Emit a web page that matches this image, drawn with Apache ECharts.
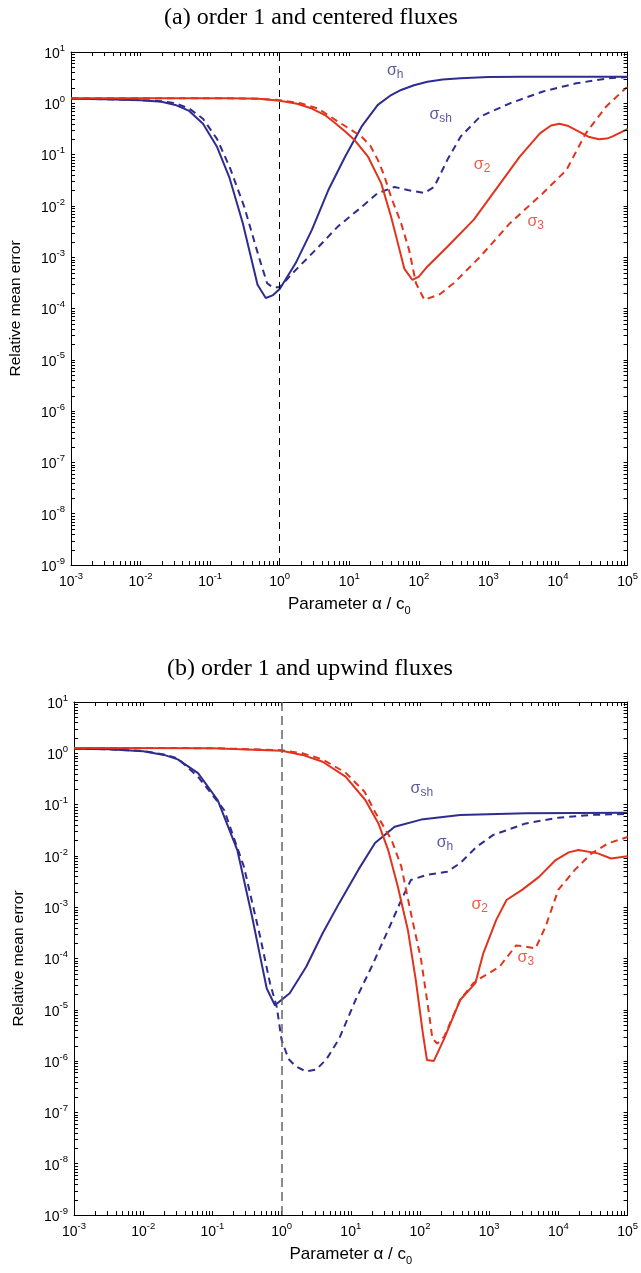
<!DOCTYPE html>
<html><head><meta charset="utf-8">
<script src="https://cdn.jsdelivr.net/npm/echarts@6/dist/echarts.min.js"></script>
<style>html,body{margin:0;padding:0;background:#fff}#c{width:641px;height:1273px}</style>
</head><body><div id="c"></div>
<script>
// ---------- data ----------
const titles = ['(a) order 1 and centered fluxes', '(b) order 1 and upwind fluxes'];
const xName = 'Parameter α / c{sub|0}';
const yName = 'Relative mean error';
const xRange = [1e-3, 1e5];
const yRange = [1e-9, 10];
const refLineX = 1;

// (a) centered fluxes
const a_sigma_h = [[1e-3,1.23],[3.16e-3,1.2],[0.01,1.15],[0.02,1.07],[0.0316,0.93],[0.05,0.71],[0.079,0.4],[0.126,0.14],[0.19,0.035],[0.295,4.6e-3],[0.48,2.9e-4],[0.63,1.6e-4],[0.79,1.8e-4],[1,2.4e-4],[1.69,7.6e-4],[2.9,3.4e-3],[5,0.0204],[8.7,0.091],[15,0.35],[25.7,0.93],[40,1.45],[55.6,1.82],[85,2.25],[133,2.63],[220,2.9],[398,3.09],[1000,3.24],[3162,3.31],[1e5,3.31]];
const a_sigma_sh = [[1e-3,1.23],[3.16e-3,1.2],[0.01,1.16],[0.02,1.1],[0.0316,1.0],[0.05,0.79],[0.079,0.5],[0.126,0.2],[0.19,0.058],[0.31,9.5e-3],[0.5,1.02e-3],[0.66,3.1e-4],[0.79,2.6e-4],[1,2.6e-4],[1.69,5.6e-4],[3.63,1.6e-3],[6.9,4e-3],[15,9.5e-3],[25.7,0.0178],[44.7,0.0234],[69,0.0204],[120,0.0178],[166,0.0234],[257,0.079],[398,0.224],[759,0.55],[2042,1.0],[6100,1.7],[18200,2.45],[53700,3.09],[1e5,3.24]];
const a_sigma_2 = [[1e-3,1.26],[0.01,1.26],[0.1,1.25],[0.19,1.25],[0.5,1.22],[1,1.12],[1.78,0.98],[2.9,0.79],[4.47,0.59],[6.3,0.41],[8.9,0.275],[12,0.19],[18.6,0.091],[28.8,0.0275],[39.8,6.2e-3],[50,1.86e-3],[61.7,6e-4],[81,3.6e-4],[100,4.2e-4],[133,6.6e-4],[257,1.6e-3],[617,5.4e-3],[1480,0.0275],[2820,0.091],[5500,0.26],[7940,0.37],[10500,0.4],[14100,0.36],[18200,0.3],[28200,0.22],[38900,0.2],[50000,0.205],[60000,0.224],[93000,0.3],[1e5,0.316]];
const a_sigma_3 = [[1e-3,1.26],[0.1,1.26],[0.5,1.23],[1,1.15],[2,1.0],[3.55,0.79],[6.9,0.44],[10,0.32],[15,0.224],[20,0.15],[25.7,0.079],[31.6,0.04],[39.8,0.015],[55.6,4.6e-3],[72.4,1.38e-3],[91,3.1e-4],[120,1.48e-4],[200,1.9e-4],[316,3.1e-4],[759,1.02e-3],[2040,4.6e-3],[6100,0.0178],[13200,0.05],[25100,0.26],[49000,0.86],[93000,1.95],[1e5,2.04]];

// (b) upwind fluxes
const b_blue_solid = [[1e-3,1.23],[3.16e-3,1.2],[0.01,1.1],[0.02,0.93],[0.0316,0.76],[0.062,0.41],[0.119,0.123],[0.229,0.013],[0.375,6.5e-4],[0.49,1.1e-4],[0.61,2.6e-5],[0.8,1.23e-5],[1.31,2.1e-5],[2.27,6.9e-5],[3.92,3.1e-4],[6.8,1.2e-3],[12.9,5.4e-3],[22.4,0.0178],[43,0.037],[104,0.051],[380,0.063],[3390,0.068],[1e5,0.069]];
const b_blue_dashed = [[1e-3,1.23],[3.16e-3,1.2],[0.01,1.11],[0.02,0.95],[0.0316,0.79],[0.062,0.35],[0.148,0.0785],[0.285,6.2e-3],[0.49,2.66e-4],[0.68,3.3e-5],[0.85,1.15e-5],[1,2.6e-6],[1.26,1.1e-6],[1.58,8e-7],[2.24,6.3e-7],[3.16,6.8e-7],[4.47,1.1e-6],[6.8,2.75e-6],[11.7,1.55e-5],[20,6.9e-5],[34.7,3.6e-4],[53.7,1.38e-3],[74,3.4e-3],[129,4.3e-3],[245,4.9e-3],[380,7.2e-3],[661,0.0151],[1150,0.0257],[3390,0.043],[1e4,0.0556],[30200,0.063],[1e5,0.066]];
const b_sigma_2 = [[1e-3,1.27],[0.1,1.26],[1,1.12],[2,0.93],[3.92,0.685],[8.4,0.35],[16.2,0.123],[25.1,0.043],[34.7,0.013],[47.9,2.5e-3],[66.8,3.6e-4],[87,3.8e-5],[110,3.5e-6],[126,1.05e-6],[158,1e-6],[224,2.75e-6],[380,1.55e-5],[631,3.3e-5],[822,1.26e-4],[1260,5.6e-4],[1780,1.38e-3],[3020,2.2e-3],[5250,3.9e-3],[9120,8.3e-3],[14100,0.0117],[19500,0.013],[37200,0.0112],[57500,8.9e-3],[1e5,9.8e-3]];
const b_sigma_3 = [[1e-3,1.27],[0.1,1.26],[1,1.15],[2,1.0],[3.92,0.76],[8.4,0.42],[15.8,0.178],[22.4,0.072],[38.9,0.0204],[53.7,6.2e-3],[74,7.6e-4],[104,9.3e-5],[135,8.5e-6],[151,2.75e-6],[178,2.2e-6],[224,3e-6],[380,1.55e-5],[589,3.3e-5],[741,4.1e-5],[1410,6.9e-5],[2450,1.8e-4],[3390,1.7e-4],[4680,1.58e-4],[6530,4.2e-4],[1e4,2.2e-3],[17400,5.4e-3],[30200,0.0112],[52500,0.0176],[1e5,0.0234]];

// curve labels: [x, y, main, subscript, colour key]
const a_labels = [[34.7,4.27,'σ','h','blue'],[142,0.59,'σ','sh','blue'],[617,0.063,'σ','2','red'],[3630,4.9e-3,'σ','3','red']];
const b_labels = [[73,0.201,'σ','sh','blue'],[174,0.0178,'σ','h','blue'],[555,1.1e-3,'σ','2','red'],[2570,1.02e-4,'σ','3','red']];

// minor tick values (log axes)
const xMinor = []; for (let d=-3; d<5; d++) for (let k=2; k<10; k++) xMinor.push(k*Math.pow(10,d));
const yMinor = []; for (let d=-9; d<1; d++) for (let k=2; k<10; k++) yMinor.push(k*Math.pow(10,d));

// ---------- styles ----------
const BLUE = '#2E2D8F', RED = '#E2341D';
const COL = {blue: BLUE, red: RED};
const grids = [
  {left: 70, top: 52, width: 562, height: 513},
  {left: 74, top: 702, width: 563, height: 513}
];
const TICK = 4;
const FONT = 'Liberation Sans, Arial, sans-serif';

function expLabel(v){
  const e = Math.round(Math.log10(v));
  return '{b|10}{sup|' + e + '}';
}
const tickRich = {
  b: {fontSize: 14, fontFamily: FONT, color: '#000', lineHeight: 18, verticalAlign: 'bottom'},
  sup: {fontSize: 9.5, fontFamily: FONT, color: '#000', lineHeight: 9, verticalAlign: 'top'}
};

const option = {
  animation: false,
  backgroundColor: '#fff',
  grid: grids.map(g => Object.assign({containLabel: false}, g)),
  xAxis: [], yAxis: [], series: [],
  graphic: [
    {type:'text', x: 311, y: 18, style:{text: titles[0], font: '24px "Liberation Serif", "Times New Roman", serif', fill:'#000', textAlign:'center', textVerticalAlign:'middle'}},
    {type:'text', x: 310, y: 669, style:{text: titles[1], font: '24px "Liberation Serif", "Times New Roman", serif', fill:'#000', textAlign:'center', textVerticalAlign:'middle'}}
  ]
};

function addPanel(gi, curves, labels, refColor, refDash, refWidth){
  const xb = option.xAxis.length;
  const yb = option.yAxis.length;
  const common = {type:'log', logBase:10, gridIndex: gi, splitLine:{show:false}, minorTick:{show:false},
    axisLine:{show:true, onZero:false, lineStyle:{color:'#000', width:1}},
    axisTick:{show:true, inside:true, length:TICK, lineStyle:{color:'#000', width:1}}};
  option.xAxis.push(Object.assign({}, common, {min:xRange[0], max:xRange[1], interval:1, splitNumber:8, position:'bottom',
    axisLabel:{show:true, margin:6, formatter: expLabel, color:'#000', rich: tickRich, showMinLabel:true, showMaxLabel:true},
    name: xName, nameLocation:'middle', nameGap: 28, nameTextStyle:{fontSize:17, fontFamily:FONT, color:'#000', rich:{sub:{fontSize:11, fontFamily:FONT, color:'#000', verticalAlign:'bottom', padding:[12,0,0,0]}}}}));
  option.xAxis.push(Object.assign({}, common, {min:xRange[0], max:xRange[1], interval:1, splitNumber:8, position:'top', axisLabel:{show:false}}));
  option.yAxis.push(Object.assign({}, common, {min:yRange[0], max:yRange[1], interval:1, splitNumber:10, position:'left',
    axisLabel:{show:true, margin:6, formatter: expLabel, color:'#000', rich: tickRich, showMinLabel:true, showMaxLabel:true},
    name: yName, nameLocation:'middle', nameGap: 47, nameTextStyle:{fontSize:15.5, fontFamily:FONT, color:'#000'}}));
  option.yAxis.push(Object.assign({}, common, {min:yRange[0], max:yRange[1], interval:1, splitNumber:10, position:'right', axisLabel:{show:false}}));

  curves.forEach((c, i) => {
    const s = {type:'line', xAxisIndex: xb, yAxisIndex: yb, data: c.data, showSymbol:false, symbol:'none', smooth:false,
      lineStyle:{color: c.color, width: 2, type: c.dashed ? [7,5] : 'solid'}, z: 3};
    if (i === 0) {
      s.markLine = {silent:true, symbol:'none', label:{show:false}, animation:false,
        lineStyle:{color: refColor, width: refWidth, type: refDash}, data:[{xAxis: refLineX}]};
    }
    option.series.push(s);
  });
  // curve labels
  labels.forEach(l => {
    option.series.push({type:'scatter', xAxisIndex: xb, yAxisIndex: yb, symbolSize: 0, silent:true, z: 4,
      data:[[l[0], l[1]]],
      label:{show:true, position:'right', distance:0, formatter: l[2] + '{sub|' + l[3] + '}',
        fontSize: 16, fontFamily: FONT, color: COL[l[4]], lineHeight: 20,
        rich:{sub:{fontSize: 12, fontFamily: FONT, color: COL[l[4]], verticalAlign:'bottom', lineHeight: 12, padding:[12,0,0,0]}}}});
  });
  // minor ticks x
  option.series.push({type:'custom', xAxisIndex: xb, yAxisIndex: yb, silent:true, clip:false, z: 6,
    data: xMinor.map(v => [v, 1]),
    renderItem: function(params, api){
      const cs = params.coordSys;
      const px = Math.round(api.coord([api.value(0), 1])[0]) + 0.5;
      const b = cs.y + cs.height;
      return {type:'group', children:[
        {type:'line', shape:{x1:px, y1:b, x2:px, y2:b - TICK}, style:{stroke:'#000', lineWidth:1}},
        {type:'line', shape:{x1:px, y1:cs.y, x2:px, y2:cs.y + TICK}, style:{stroke:'#000', lineWidth:1}}
      ]};
    }});
  // minor ticks y
  option.series.push({type:'custom', xAxisIndex: xb, yAxisIndex: yb, silent:true, clip:false, z: 6,
    data: yMinor.map(v => [1, v]),
    renderItem: function(params, api){
      const cs = params.coordSys;
      const py = Math.round(api.coord([1, api.value(1)])[1]) + 0.5;
      const r = cs.x + cs.width;
      return {type:'group', children:[
        {type:'line', shape:{x1:cs.x, y1:py, x2:cs.x + TICK, y2:py}, style:{stroke:'#000', lineWidth:1}},
        {type:'line', shape:{x1:r, y1:py, x2:r - TICK, y2:py}, style:{stroke:'#000', lineWidth:1}}
      ]};
    }});
}

addPanel(0, [
  {data: a_sigma_h, color: BLUE, dashed: false},
  {data: a_sigma_sh, color: BLUE, dashed: true},
  {data: a_sigma_2, color: RED, dashed: false},
  {data: a_sigma_3, color: RED, dashed: true}
], a_labels, '#000', [7,5], 1);
addPanel(1, [
  {data: b_blue_solid, color: BLUE, dashed: false},
  {data: b_blue_dashed, color: BLUE, dashed: true},
  {data: b_sigma_2, color: RED, dashed: false},
  {data: b_sigma_3, color: RED, dashed: true}
], b_labels, '#666', [9,5], 1.5);

const chart = echarts.init(document.getElementById('c'), null, {renderer:'canvas'});
chart.setOption(option);
</script>
</body></html>
